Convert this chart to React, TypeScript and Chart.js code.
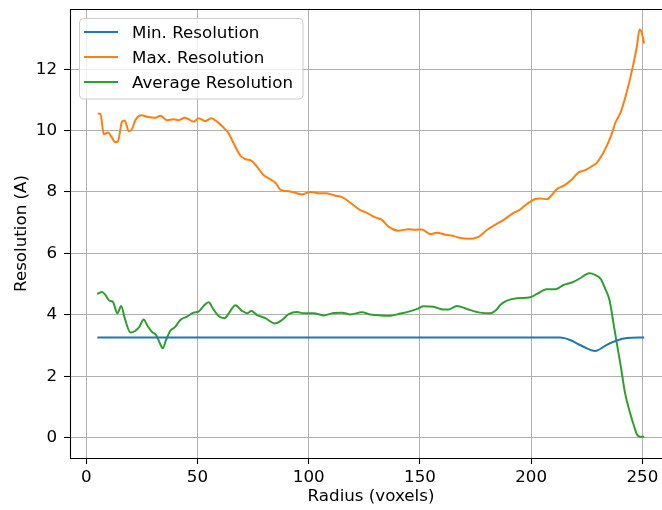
import React, { useEffect, useRef } from "react";
import { Chart, registerables } from "chart.js";

Chart.register(...registerables);

// ---------- data ----------
const xTickValues = [0, 50, 100, 150, 200, 250];
const yTickValues = [0, 2, 4, 6, 8, 10, 12];

const seriesLabels = ["Min. Resolution", "Max. Resolution", "Average Resolution"];

const minResX = [5, 213, 217.5, 220.5, 223.5, 228.7, 234, 238.5, 243, 250.8];
const minResY = [3.26, 3.26, 3.18, 3.07, 2.96, 2.82, 3.02, 3.16, 3.24, 3.26];

const maxResX = [
  5.2, 6.4, 7.9, 9.8, 11.3, 13.1, 14.2, 16.1, 17.3, 19.1, 20.2, 22.1, 24.8, 27.3, 31.1, 33.3, 36.3,
  39.3, 41.6, 44.3, 46.0, 48.3, 50.5, 53.5, 56.2, 58.8, 61.8, 64.0, 66.3, 69.3, 71.5, 74.5, 77.0,
  79.7, 83.0, 85.0, 87.2, 88.7, 90.2, 93.2, 97.0, 100.7, 104.4, 107.5, 112.0, 115.0, 118.7, 123.2,
  126.2, 129.9, 132.9, 135.9, 140.4, 144.9, 147.9, 150.9, 154.6, 157.6, 161.4, 165.1, 168.1, 172.6,
  176.3, 180.1, 183.8, 187.6, 192.1, 195.1, 198.1, 201.8, 204.0, 207.1, 209.3, 211.5, 214.5, 218.3,
  221.2, 224.3, 227.3, 229.5, 231.8, 234.0, 236.3, 237.7, 240.3, 242.2, 244.5, 246.0, 247.5, 248.7,
  249.4, 250.8,
];
const maxResY = [
  10.56, 10.54, 9.88, 9.94, 9.8, 9.62, 9.64, 10.29, 10.33, 9.98, 10.0, 10.34, 10.5, 10.45, 10.42,
  10.48, 10.34, 10.37, 10.34, 10.42, 10.37, 10.29, 10.4, 10.31, 10.4, 10.29, 10.09, 9.91, 9.58, 9.18,
  9.07, 9.01, 8.8, 8.55, 8.4, 8.3, 8.08, 8.04, 8.03, 7.99, 7.92, 8.0, 7.96, 7.96, 7.88, 7.83, 7.65,
  7.41, 7.32, 7.17, 7.09, 6.87, 6.74, 6.79, 6.77, 6.78, 6.63, 6.67, 6.61, 6.57, 6.5, 6.48, 6.54, 6.76,
  6.93, 7.09, 7.32, 7.43, 7.61, 7.77, 7.79, 7.76, 7.9, 8.09, 8.2, 8.41, 8.63, 8.71, 8.84, 8.95, 9.2,
  9.5, 9.91, 10.23, 10.61, 11.05, 11.7, 12.19, 12.73, 13.29, 13.25, 12.84,
];

const avgResX = [
  4.9, 7.1, 8.6, 10.4, 11.9, 14.0, 15.7, 17.3, 19.9, 22.1, 23.9, 25.8, 27.8, 29.6, 31.4, 33.0, 34.4,
  35.9, 37.8, 39.8, 42.3, 45.3, 48.3, 50.5, 52.8, 55.0, 57.3, 59.5, 62.2, 64.3, 67.0, 70.0, 72.3,
  74.2, 76.8, 80.5, 84.7, 88.0, 91.0, 94.7, 97.7, 102.2, 106.7, 111.2, 115.0, 118.7, 123.9, 127.7,
  132.2, 136.7, 141.2, 145.7, 149.4, 151.6, 156.1, 160.6, 162.8, 166.6, 171.1, 177.1, 181.6, 184.6,
  186.1, 189.1, 193.6, 199.6, 202.6, 207.0, 210.8, 214.5, 218.3, 222.0, 224.3, 226.2, 228.7, 231.3,
  233.2, 235.2, 237.0, 238.5, 240.3, 242.2, 244.5, 246.3, 247.8, 249.0, 250.8,
];
const avgResY = [
  4.68, 4.74, 4.65, 4.46, 4.43, 4.05, 4.29, 3.89, 3.42, 3.48, 3.61, 3.85, 3.61, 3.44, 3.34, 3.09, 2.91,
  3.18, 3.48, 3.59, 3.83, 3.94, 4.07, 4.1, 4.29, 4.41, 4.16, 3.96, 3.89, 4.07, 4.31, 4.13, 4.05, 4.12,
  3.99, 3.89, 3.72, 3.83, 4.02, 4.09, 4.05, 4.05, 3.98, 4.06, 4.07, 4.01, 4.08, 4.01, 3.98, 3.97, 4.04,
  4.12, 4.21, 4.28, 4.26, 4.17, 4.17, 4.29, 4.19, 4.07, 4.05, 4.18, 4.32, 4.46, 4.54, 4.57, 4.68, 4.83,
  4.83, 4.97, 5.05, 5.19, 5.3, 5.35, 5.3, 5.16, 4.86, 4.48, 3.72, 3.07, 2.31, 1.45, 0.79, 0.36, 0.07,
  0.03, 0.03,
];

const seriesColors = ["#1f77b4", "#ff7f0e", "#2ca02c"];

// ---------- style ----------
const FONT_FAMILY = "'DejaVu Sans', sans-serif";
const FONT_SIZE = 16.7;

const toPoints = (xs: number[], ys: number[]) => xs.map((x, i) => ({ x, y: ys[i] }));

const framePlugin = {
  id: "frame",
  afterDatasetsDraw(chart: any) {
    const { ctx, chartArea } = chart;
    ctx.save();
    ctx.strokeStyle = "#000";
    ctx.lineWidth = 1.1;
    const l = Math.round(chartArea.left) + 0.5;
    const t = Math.round(chartArea.top) + 0.5;
    const r = Math.round(chartArea.right) + 0.5;
    const b = Math.round(chartArea.bottom) + 0.5;
    ctx.beginPath();
    ctx.moveTo(r, t);
    ctx.lineTo(l, t);
    ctx.lineTo(l, b);
    ctx.lineTo(r, b);
    ctx.stroke();
    ctx.restore();
  },
};

const legendPlugin = {
  id: "mplLegend",
  afterDraw(chart: any) {
    const { ctx } = chart;
    const ds = chart.data.datasets;
    ctx.save();
    ctx.font = `${FONT_SIZE}px ${FONT_FAMILY}`;
    const maxW = Math.max(...ds.map((d: any) => ctx.measureText(d.label).width));
    const x0 = 79.5;
    const y0 = 18.5;
    const textX = 132;
    const w = textX + maxW + 10 - x0;
    const h = 80.5;
    ctx.beginPath();
    (ctx as any).roundRect(x0, y0, w, h, 4);
    ctx.fillStyle = "rgba(255,255,255,0.8)";
    ctx.fill();
    ctx.strokeStyle = "#cccccc";
    ctx.lineWidth = 1;
    ctx.stroke();
    ds.forEach((d: any, i: number) => {
      const cy = 32 + i * 25;
      ctx.beginPath();
      ctx.moveTo(84, cy);
      ctx.lineTo(118, cy);
      ctx.strokeStyle = d.borderColor;
      ctx.lineWidth = 2;
      ctx.stroke();
      ctx.fillStyle = "#000";
      ctx.textBaseline = "alphabetic";
      ctx.textAlign = "left";
      ctx.fillText(d.label, textX, cy + 6.3);
    });
    ctx.restore();
  },
};

const zeroPad = (s: any) => {
  s.paddingTop = 0;
  s.paddingBottom = 0;
  s.paddingLeft = 0;
  s.paddingRight = 0;
};

export default function App() {
  const ref = useRef<HTMLCanvasElement>(null);
  useEffect(() => {
    document.body.style.margin = "0";
    const canvas = ref.current;
    if (!canvas) return;
    const font = { family: FONT_FAMILY, size: FONT_SIZE };
    const gridCommon = {
      color: "#b0b0b0",
      lineWidth: 1,
      tickColor: "#000",
      tickLength: 6,
      tickWidth: 1.1,
      drawTicks: true,
    };
    const chart = new Chart(canvas, {
      type: "line",
      data: {
        datasets: [
          { label: seriesLabels[0], data: toPoints(minResX, minResY), borderColor: seriesColors[0] },
          { label: seriesLabels[1], data: toPoints(maxResX, maxResY), borderColor: seriesColors[1] },
          { label: seriesLabels[2], data: toPoints(avgResX, avgResY), borderColor: seriesColors[2] },
        ].map((d) => ({
          ...d,
          backgroundColor: d.borderColor,
          borderWidth: 2,
          pointRadius: 0,
          fill: false,
          cubicInterpolationMode: "monotone" as const,
        })),
      },
      options: {
        animation: false,
        responsive: false,
        devicePixelRatio: 1,
        layout: { padding: { top: 9, right: 8, left: 0, bottom: 0 } },
        plugins: { legend: { display: false }, tooltip: { enabled: false } },
        scales: {
          x: {
            type: "linear",
            min: -7.3,
            max: 263.3,
            afterBuildTicks: (s: any) => {
              s.ticks = xTickValues.map((v) => ({ value: v }));
            },
            afterFit: (s: any) => {
              s.height = 52;
              zeroPad(s);
            },
            grid: gridCommon,
            border: { display: false },
            ticks: {
              font,
              color: "#000",
              padding: 4,
              maxRotation: 0,
              autoSkip: false,
              callback: (v: any) => String(v),
            },
            title: {
              display: true,
              text: "Radius (voxels)",
              font,
              color: "#000",
              padding: { top: 0, bottom: 3 },
            },
          },
          y: {
            type: "linear",
            min: -0.665,
            max: 13.96,
            afterBuildTicks: (s: any) => {
              s.ticks = yTickValues.map((v) => ({ value: v }));
            },
            afterFit: (s: any) => {
              s.width = 70;
              zeroPad(s);
            },
            grid: gridCommon,
            border: { display: false },
            ticks: {
              font,
              color: "#000",
              padding: 7,
              autoSkip: false,
              callback: (v: any) => String(v),
            },
            title: {
              display: true,
              text: "Resolution (A)",
              font,
              color: "#000",
              padding: { top: 12, bottom: 0 },
            },
          },
        },
      },
      plugins: [framePlugin, legendPlugin],
    } as any);
    return () => chart.destroy();
  }, []);
  return (
    <div style={{ position: "relative", width: 662, height: 510, overflow: "hidden" }}>
      <canvas ref={ref} width={680} height={510} style={{ display: "block" }} />
    </div>
  );
}
